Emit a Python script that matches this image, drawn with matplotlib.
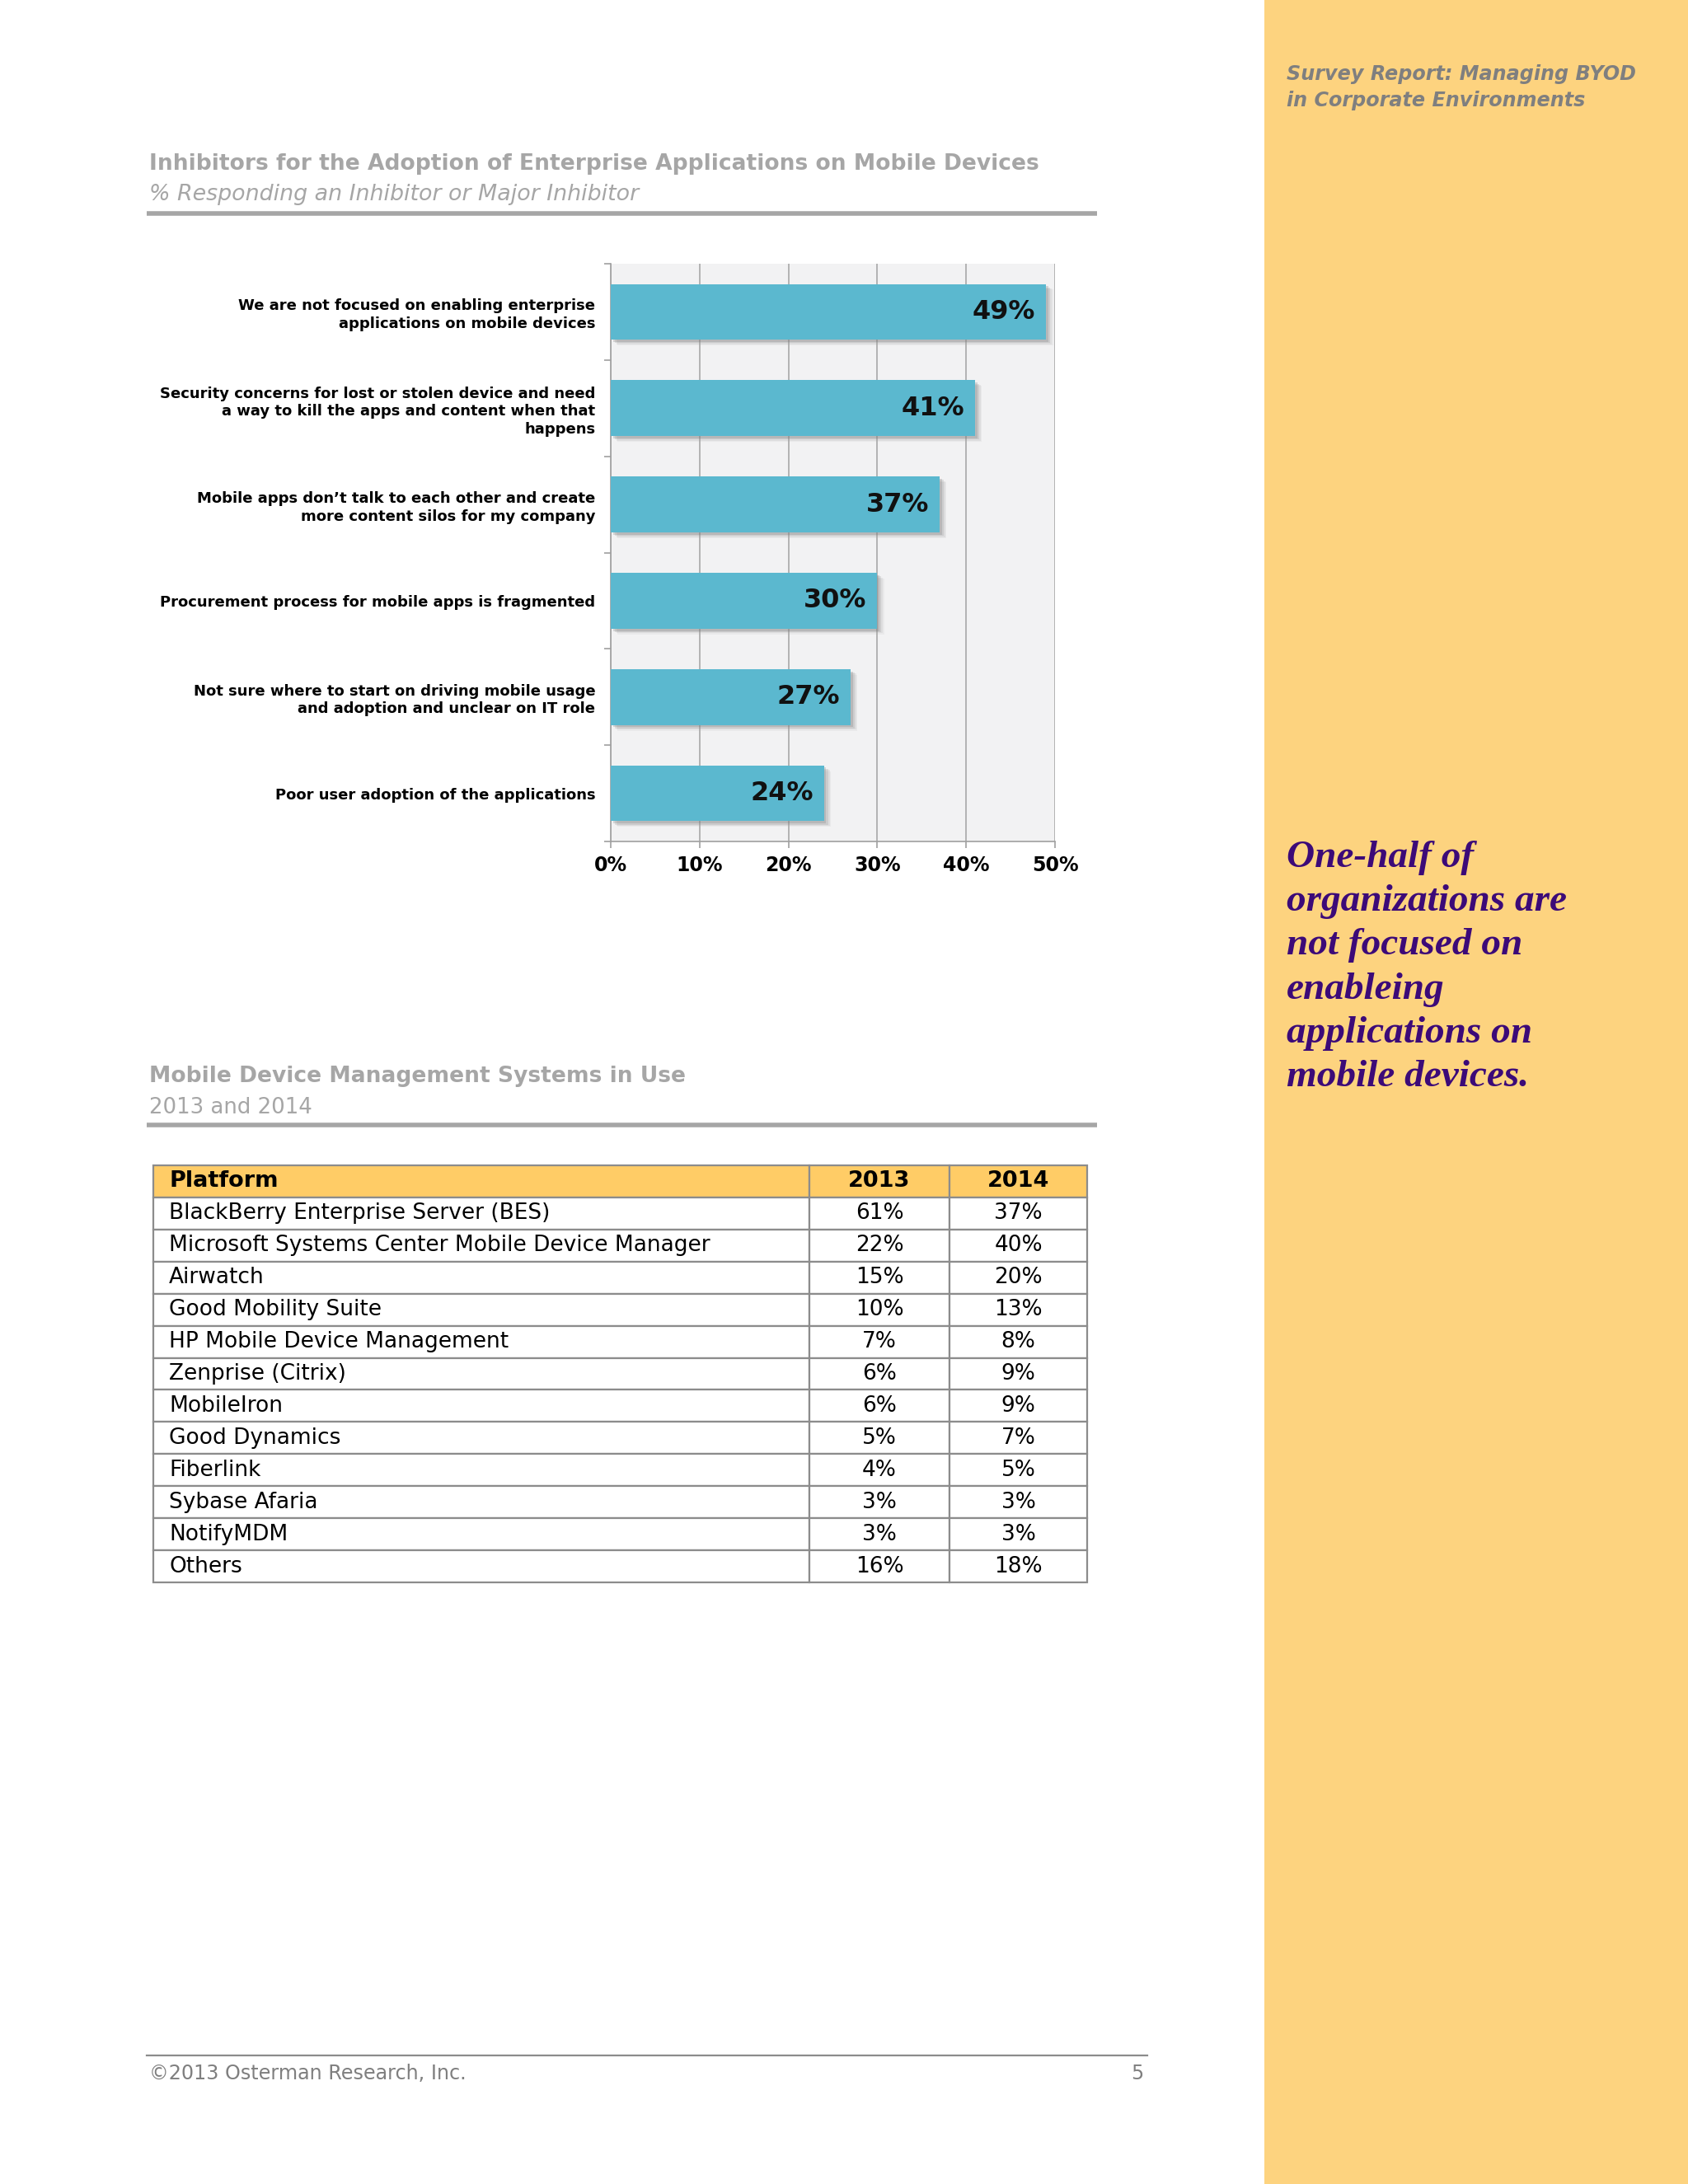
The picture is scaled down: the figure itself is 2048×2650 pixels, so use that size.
import matplotlib
matplotlib.use("Agg")
import matplotlib.pyplot as plt
from matplotlib.patches import Rectangle
from matplotlib.lines import Line2D
import matplotlib.patheffects as pe
import numpy as np

# ---------------- data ----------------
chart_title = "Inhibitors for the Adoption of Enterprise Applications on Mobile Devices"
chart_subtitle = "% Responding an Inhibitor or Major Inhibitor"
categories = [
    "We are not focused on enabling enterprise\napplications on mobile devices",
    "Security concerns for lost or stolen device and need\na way to kill the apps and content when that\nhappens",
    "Mobile apps don\u2019t talk to each other and create\nmore content silos for my company",
    "Procurement process for mobile apps is fragmented",
    "Not sure where to start on driving mobile usage\nand adoption and unclear on IT role",
    "Poor user adoption of the applications",
]
values = [49, 41, 37, 30, 27, 24]
x_ticks = [0, 10, 20, 30, 40, 50]
x_tick_labels = ["0%", "10%", "20%", "30%", "40%", "50%"]

table_title = "Mobile Device Management Systems in Use"
table_subtitle = "2013 and 2014"
table_columns = ["Platform", "2013", "2014"]
platforms = [
    "BlackBerry Enterprise Server (BES)",
    "Microsoft Systems Center Mobile Device Manager",
    "Airwatch",
    "Good Mobility Suite",
    "HP Mobile Device Management",
    "Zenprise (Citrix)",
    "MobileIron",
    "Good Dynamics",
    "Fiberlink",
    "Sybase Afaria",
    "NotifyMDM",
    "Others",
]
pct_2013 = [61, 22, 15, 10, 7, 6, 6, 5, 4, 3, 3, 16]
pct_2014 = [37, 40, 20, 13, 8, 9, 9, 7, 5, 3, 3, 18]

header_text = "Survey Report: Managing BYOD\nin Corporate Environments"
callout_text = ("One-half of\norganizations are\nnot focused on\nenableing\n"
                "applications on\nmobile devices.")
footer_left = "\u00a92013 Osterman Research, Inc."
footer_right = "5"

# ---------------- layout helpers ----------------
W, H = 2048, 2650
def fx(x):
    return x / W
def fy(y):
    return 1 - y / H

plt.rcParams["font.family"] = ["DejaVu Sans"]

fig = plt.figure(figsize=(W / 100, H / 100), dpi=100)
fig.patch.set_facecolor("white")

# right side panel
fig.add_artist(Rectangle((fx(1534), 0), 1 - fx(1534), 1, transform=fig.transFigure,
                         facecolor="#FDD37F", edgecolor="none", zorder=0))
fig.text(fx(1561), fy(106), header_text, ha="left", va="center", fontsize=17.2,
         weight="bold", style="italic", color="#7F7F7F", linespacing=1.38)
fig.text(fx(1561), fy(1174), callout_text, ha="left", va="center", fontsize=34,
         family=["Liberation Serif", "DejaVu Serif"], weight="bold", style="italic",
         color="#3C0A78", linespacing=1.355)

gray_title = "#A6A6A6"

# ---------------- bar chart section ----------------
fig.text(fx(181), fy(199), chart_title, ha="left", va="center", fontsize=19.1,
         weight="bold", color=gray_title)
fig.text(fx(181), fy(236), chart_subtitle, ha="left", va="center", fontsize=19.4,
         style="italic", color=gray_title)
fig.add_artist(Line2D([fx(178), fx(1331)], [fy(259), fy(259)], transform=fig.transFigure,
                      color="#A6A6A6", lw=4, solid_capstyle="butt"))

ax = fig.add_axes([fx(741), fy(1021), (1280 - 741) / W, (1021 - 320) / H])
ax.set_facecolor("#F2F2F3")
n = len(categories)
ypos = np.arange(n)
shadow = [pe.SimplePatchShadow(offset=(6, -5), shadow_rgbFace="#B0B0B0", alpha=0.12),
          pe.SimplePatchShadow(offset=(5, -4), shadow_rgbFace="#9A9A9A", alpha=0.15),
          pe.SimplePatchShadow(offset=(3.5, -3), shadow_rgbFace="#8A8A8A", alpha=0.2),
          pe.SimplePatchShadow(offset=(2, -2), shadow_rgbFace="#7A7A7A", alpha=0.25),
          pe.Normal()]
bars = ax.barh(ypos, values, height=0.58, color="#5BB8CF", edgecolor="none", zorder=3)
for b in bars:
    b.set_path_effects(shadow)
for i, v in enumerate(values):
    ax.text(v - 1.2, i, f"{v}%", ha="right", va="center", fontsize=23,
            weight="bold", color="#111111", zorder=4)

ax.set_xlim(0, 50)
ax.set_ylim(n - 0.5, -0.5)
ax.set_xticks(x_ticks)
ax.set_xticklabels(x_tick_labels, fontsize=17, weight="bold")
ax.set_yticks(ypos)
ax.set_yticklabels(categories, fontsize=13, weight="bold", linespacing=1.25)
ax.set_yticks(np.arange(n + 1) - 0.5, minor=True)
ax.tick_params(axis="y", which="major", length=0, pad=13.5)
ax.tick_params(axis="y", which="minor", length=6, color="#A0A0A0", width=1.2)
ax.tick_params(axis="x", which="major", length=6, color="#A0A0A0", width=1.2, pad=6)
ax.xaxis.grid(True, color="#A8A8A8", lw=1.2)
ax.set_axisbelow(True)
for s in ["top", "right"]:
    ax.spines[s].set_visible(False)
for s in ["left", "bottom"]:
    ax.spines[s].set_color("#A0A0A0")
    ax.spines[s].set_linewidth(1.2)

# ---------------- table section ----------------
fig.text(fx(181), fy(1306), table_title, ha="left", va="center", fontsize=19.1,
         weight="bold", color=gray_title)
fig.text(fx(181), fy(1344), table_subtitle, ha="left", va="center", fontsize=18.7,
         color=gray_title)
fig.add_artist(Line2D([fx(178), fx(1331)], [fy(1365), fy(1365)], transform=fig.transFigure,
                      color="#A6A6A6", lw=4, solid_capstyle="butt"))

tax = fig.add_axes([fx(186), fy(1920), (1319 - 186) / W, (1920 - 1414) / H])
tax.axis("off")
cell_text = [[p, f"{a}%", f"{b}%"] for p, a, b in zip(platforms, pct_2013, pct_2014)]
col_w = [796 / 1133, 170 / 1133, 167 / 1133]
tbl = tax.table(cellText=cell_text, colLabels=table_columns, cellLoc="center",
                colWidths=col_w, bbox=[0, 0, 1, 1])
tbl.auto_set_font_size(False)
tbl.set_fontsize(19)
for (r, c), cell in tbl.get_celld().items():
    cell.set_edgecolor("#8C8C8C")
    cell.set_linewidth(1.6)
    if c == 0:
        cell._loc = "left"
        cell.PAD = 0.024
        cell.get_text().set_horizontalalignment("left")
    if r == 0:
        cell.set_facecolor("#FFCC66")
        cell.set_text_props(weight="bold", color="black", fontsize=19.5)
    else:
        cell.set_facecolor("white")
        cell.set_text_props(color="black")

# ---------------- footer ----------------
fig.add_artist(Line2D([fx(178), fx(1392)], [fy(2494), fy(2494)], transform=fig.transFigure,
                      color="#8C8C8C", lw=1.6))
fig.text(fx(181), fy(2516), footer_left, ha="left", va="center", fontsize=17.2,
         color="#7F7F7F")
fig.text(fx(1387), fy(2516), footer_right, ha="right", va="center", fontsize=17.2,
         color="#7F7F7F")

fig.savefig("out.png", dpi=100)
